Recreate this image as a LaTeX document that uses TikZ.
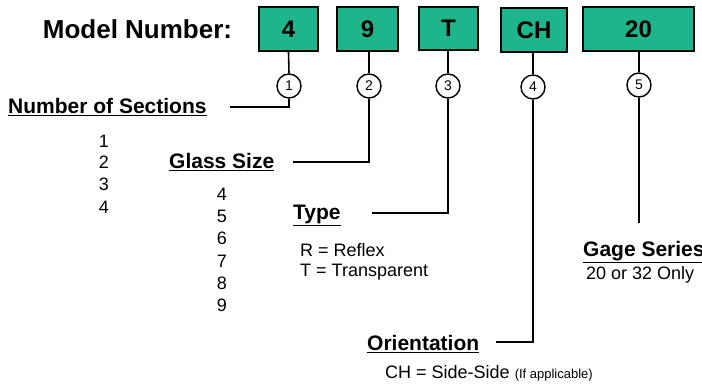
\documentclass[tikz,border=0pt]{standalone}
\usepackage{fontspec}
\setmainfont{Liberation Sans}
\definecolor{boxgreen}{RGB}{30,181,140}
\tikzset{
  codebox/.style={draw=black, line width=1.6pt, fill=boxgreen, inner sep=0pt, font=\fontsize{24}{26}\selectfont\bfseries},
  numcirc/.style={circle, draw=black, line width=1.4pt, fill=white, minimum size=24pt, inner sep=0pt, font=\fontsize{14}{14}\selectfont},
  lead/.style={line width=1.6pt, draw=black},
  head/.style={font=\fontsize{21}{23}\selectfont\bfseries, inner sep=0pt},
  body/.style={font=\fontsize{18}{20}\selectfont, inner sep=0pt},
}
\begin{document}
\begin{tikzpicture}[x=1pt,y=-1pt]
\useasboundingbox (0,0) rectangle (702,385);
\node[font=\fontsize{26}{28}\selectfont\bfseries, inner sep=0pt] (title) at (137.5,29) {Model Number:};
% boxes
\node[codebox, minimum width=59pt, minimum height=44pt] (b1) at (288.5,29) {4};
\node[codebox, minimum width=61pt, minimum height=44pt] (b2) at (367.5,29) {9};
\node[codebox, minimum width=59pt, minimum height=43pt] (b3) at (448.5,28.5) {T};
\node[codebox, minimum width=66pt, minimum height=44pt] (b4) at (534,30) {CH};
\node[codebox, minimum width=111pt, minimum height=44pt] (b5) at (638.5,29) {20};
% circles
\node[numcirc] (c1) at (289,86) {1};
\node[numcirc] (c2) at (369,86) {2};
\node[numcirc] (c3) at (448,86) {3};
\node[numcirc] (c4) at (533,87) {4};
\node[numcirc] (c5) at (639,85) {5};
% headings
\node[head, anchor=west] (h1) at (8,107) {\underline{Number of Sections}};
\node[head, anchor=west] (h2) at (169,162) {\underline{Glass Size}};
\node[head, anchor=west] (h3) at (293,215) {\underline{Type}};
\node[head, anchor=west] (h4) at (367,344) {\underline{Orientation}};
\node[head, anchor=west] (h5) at (583,252) {\underline{Gage Series}};
% corner coordinates
\coordinate (k1) at (289,107);
\coordinate (e1) at (230,107);
\coordinate (k2) at (369,162);
\coordinate (e2) at (293,162);
\coordinate (k3) at (448,213);
\coordinate (e3) at (372,213);
\coordinate (k4) at (533,342);
\coordinate (e4) at (496,342);
\coordinate (e5) at (639,223);
% leaders
\draw[lead] (b1.south) -- (c1.north);
\draw[lead] (c1.south) -- (k1) -- (e1);
\draw[lead] (b2.south -| c2) -- (c2.north);
\draw[lead] (c2.south) -- (k2) -- (e2);
\draw[lead] (b3.south -| c3) -- (c3.north);
\draw[lead] (c3.south) -- (k3) -- (e3);
\draw[lead] (b4.south -| c4) -- (c4.north);
\draw[lead] (c4.south) -- (k4) -- (e4);
\draw[lead] (b5.south -| c5) -- (c5.north);
\draw[lead] (c5.south) -- (e5);
% lists
\foreach \n/\yy in {1/141,2/162,3/184,4/207}{
  \node[body] (s\n) at (104,\yy) {\n};
}
\foreach \n/\yy in {4/194,5/216,6/238,7/261,8/283,9/305}{
  \node[body] (g\n) at (222,\yy) {\n};
}
\node[body, anchor=west] (t1) at (300,250) {R = Reflex};
\node[body, anchor=west] (t2) at (300,272) {T = Transparent};
\node[body, anchor=west] (o1) at (385,373) {CH = Side-Side {\fontsize{13}{14}\selectfont(If applicable)}};
\node[body, anchor=west] (gs1) at (586,275) {20 or 32 Only};
\end{tikzpicture}
\end{document}
